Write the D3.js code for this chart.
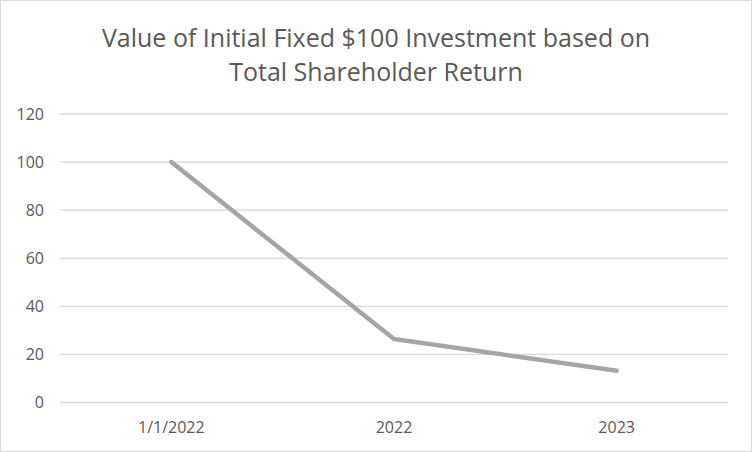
<!DOCTYPE html>
<html><head><meta charset="utf-8">
<script src="https://cdn.jsdelivr.net/npm/d3@7"></script>
<style>body{margin:0;background:#fff;} svg{display:block;}</style>
</head><body>
<script>
const categories = ["1/1/2022", "2022", "2023"];
const values = [100, 26.4, 13.2];
const yTicks = [0, 20, 40, 60, 80, 100, 120];
const titleLines = ["Value of Initial Fixed $100 Investment based on", "Total Shareholder Return"];

const W = 752, H = 452;
const svg = d3.select("body").append("svg").attr("width", W).attr("height", H);
svg.append("rect").attr("x", 0.5).attr("y", 0.5).attr("width", W - 1).attr("height", H - 1)
  .attr("fill", "#fff").attr("stroke", "#d9d9d9");

const font = "'Open Sans', sans-serif";
const x = d3.scaleBand().domain(categories).range([60, 728]);
const y = d3.scaleLinear().domain([0, 120]).range([402.5, 114]);

svg.append("g").selectAll("line").data(yTicks).join("line")
  .attr("x1", 60).attr("x2", 728).attr("y1", d => y(d)).attr("y2", d => y(d))
  .attr("stroke", "#d9d9d9").attr("stroke-width", 1.3);

svg.append("g").selectAll("text").data(yTicks).join("text")
  .attr("x", 44).attr("y", d => y(d)).attr("dy", "0.35em").attr("text-anchor", "end")
  .attr("font-family", font).attr("font-size", 16).attr("fill", "#595959").text(d => d);

svg.append("g").selectAll("text").data(categories).join("text")
  .attr("x", d => x(d) + x.bandwidth() / 2).attr("y", 433).attr("text-anchor", "middle")
  .attr("font-family", font).attr("font-size", 16).attr("fill", "#595959").text(d => d);

const line = d3.line().x((d, i) => x(categories[i]) + x.bandwidth() / 2).y(d => y(d));
svg.append("path").datum(values).attr("d", line).attr("fill", "none")
  .attr("stroke", "#a5a5a5").attr("stroke-width", 4.5).attr("stroke-linecap", "round").attr("stroke-linejoin", "round");

svg.append("g").selectAll("text").data(titleLines).join("text")
  .attr("x", 376).attr("y", (d, i) => 47 + i * 34).attr("text-anchor", "middle")
  .attr("font-family", font).attr("font-size", 25).attr("fill", "#595959").text(d => d);
</script>
</body></html>
